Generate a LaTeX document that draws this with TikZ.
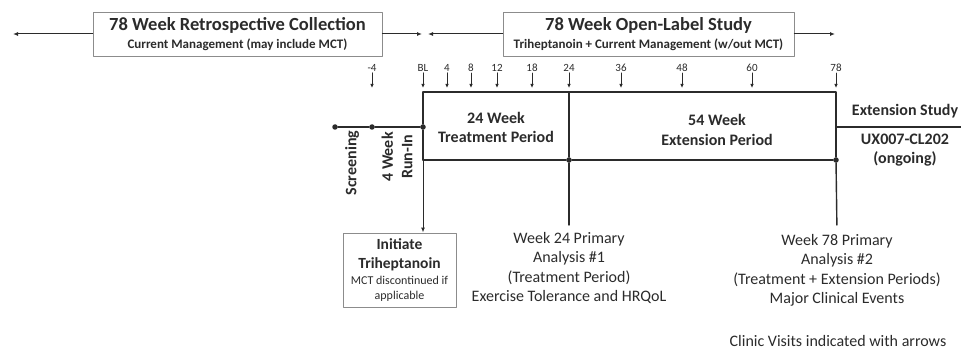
\documentclass[tikz,border=0pt]{standalone}
\usepackage{fontspec}
\setmainfont{Carlito}
\usetikzlibrary{arrows.meta}
\usetikzlibrary{positioning}

\definecolor{inkgray}{HTML}{2B2B2B}
\definecolor{framegray}{HTML}{8C8C8C}

\tikzset{
  titlebox/.style={draw=framegray, line width=0.9pt, align=center, text=inkgray, inner sep=2pt},
  tline/.style={draw=inkgray, line width=1.4pt},
  visit/.style={-{Latex[length=4pt,width=3.5pt]}, draw=inkgray, line width=0.9pt},
  spanarr/.style={-{Latex[length=5pt,width=4pt]}, draw=inkgray, line width=1pt},
  dot/.style={circle, fill=inkgray, inner sep=0pt, minimum size=5.5pt},
  wk/.style={font=\fontsize{11}{12}\selectfont, text=inkgray, inner sep=1pt},
  plain/.style={align=center, text=inkgray, font=\fontsize{16}{19.5}\selectfont, inner sep=1pt},
  bplain/.style={plain, font=\fontsize{16}{19.5}\selectfont\bfseries},
}

\begin{document}
\begin{tikzpicture}[x=1pt, y=-1pt, line cap=round, line join=round]
  \useasboundingbox (0,0) rectangle (961,350);

  % Study periods on top
  \node[titlebox, minimum width=289pt, minimum height=44pt, font=\fontsize{13}{18}\selectfont\bfseries] (retro) at (237.5,34)
    {{\fontsize{18.5}{20}\selectfont 78 Week Retrospective Collection}\\
     Current Management (may include MCT)};
  \node[titlebox, minimum width=291pt, minimum height=44pt, font=\fontsize{13}{18}\selectfont\bfseries] (open) at (648.5,34)
    {{\fontsize{18.5}{20}\selectfont 78 Week Open-Label Study}\\
     Triheptanoin + Current Management (w/out MCT)};
  \coordinate (retroL) at (13,34);
  \coordinate (retroR) at (422,34);
  \coordinate (openL) at (428,34);
  \coordinate (openR) at (835,34);
  \draw[spanarr] (retro.west) -- (retroL);
  \draw[spanarr] (retro.east) -- (retroR);
  \draw[spanarr] (open.west) -- (openL);
  \draw[spanarr] (open.east) -- (openR);

  % Clinic visits
  \foreach \lab/\xx in {-4/372, BL/423, 4/447, 8/471, 12/497, 18/532, 24/569, 36/621, 48/682, 60/752, 78/836} {
    \node[wk] (v\lab) at (\xx,68) {\ifx\lab-4 -\,4\else\lab\fi};
    \coordinate (a\lab) at (\xx,88);
    \draw[visit] (v\lab.south) -- (a\lab);
  }

  % Timeline
  \node[dot] (scr) at (335,127) {};
  \node[dot] (run) at (372,127) {};
  \node[dot] (bl) at (423,127) {};
  \coordinate (tl) at (423,92);
  \coordinate (t24) at (569,92);
  \coordinate (tr) at (836,92);
  \coordinate (ml) at (423,160);
  \node[dot] (m24) at (569,160) {};
  \node[dot] (mr) at (836,160) {};
  \coordinate (xs) at (836,127);
  \coordinate (xe) at (961,127);

  \draw[tline] (scr) -- (run) -- (bl);
  \draw[tline] (tl) -- (tr) -- (mr);
  \draw[tline] (ml) -- (m24) -- (mr);
  \draw[tline] (t24) -- (m24);
  \draw[tline] (tl) -- (bl) -- (ml);
  \draw[tline] (xs) -- (xe);

  \node[bplain] (treat) at (496,127.5) {24 Week\\Treatment Period};
  \node[bplain] (ext) at (717,130) {54 Week\\Extension Period};
  \node[bplain] (extstudy) at (905,111) {Extension Study};
  \node[bplain] (ux) at (905,150) {UX007-CL202\\(ongoing)};

  \node[bplain, rotate=90] (screen) at (352,163) {Screening};
  \node[bplain, rotate=90] (runin) at (397,157) {4 Week\\Run-In};

  % Start of treatment
  \node[titlebox, minimum width=113pt, minimum height=74pt, inner sep=1pt,
        font=\fontsize{15.5}{19}\selectfont\bfseries] (init) at (399.5,270)
    {Initiate\\Triheptanoin\\[-3pt]
     {\fontsize{12}{14}\selectfont\mdseries MCT discontinued if}\\[-4pt]
     {\fontsize{12}{14}\selectfont\mdseries applicable}};
  \draw[spanarr] (ml) -- (ml |- init.north);

  % Analyses
  \node[plain, anchor=north] (wk24) at (569,231)
    {Week 24 Primary\\Analysis \#1\\(Treatment Period)\\Exercise Tolerance and HRQoL};
  \node[plain, anchor=north] (wk78) at (837,233)
    {Week 78 Primary\\Analysis \#2\\(Treatment + Extension Periods)\\Major Clinical Events};
  \draw[tline, shorten >=6pt] (m24) -- (wk24.north);
  \draw[tline, shorten >=8pt] (mr) -- (wk78.north);

  \node[plain] (note) at (838,341) {Clinic Visits indicated with arrows};
\end{tikzpicture}
\end{document}
